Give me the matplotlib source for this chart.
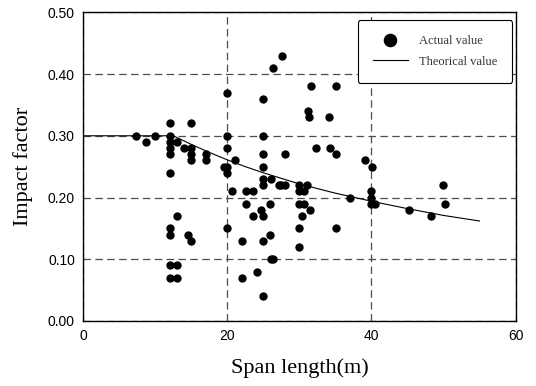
import matplotlib
matplotlib.use("Agg")
from matplotlib import pyplot as plt

# actual measured points (span length, impact factor)
span = [7.3, 8.7, 10.0, 12, 12, 12, 12, 12, 12, 13, 14, 15, 15, 15, 15, 17, 17,
        19.5, 20, 20, 20, 20, 20, 20, 13, 12, 12, 14.5, 15, 12, 13, 12, 13,
        21.0, 20.7, 22.0, 22.0, 22.6, 23.5, 22.6, 23.5, 24.1, 24.6,
        25, 25, 25, 25, 25, 25, 25, 25, 25, 25.9, 26.0, 25.9, 26.1, 26.3,
        26.4, 27.6, 28.0, 27.1, 27.5, 28.0, 30.0, 30.0, 30.6, 31.1, 30.0, 30.6,
        30.4, 31.5, 30.0, 30.0, 31.6, 31.2, 31.4, 32.3, 34.1, 34.3, 35.1, 35.1,
        35.1, 37.0, 39.1, 40.1, 40, 40, 40, 40.5, 45.2, 48.2, 50.0, 50.2]
impact = [0.30, 0.29, 0.30, 0.32, 0.30, 0.29, 0.28, 0.27, 0.24, 0.29, 0.28, 0.32, 0.28, 0.27, 0.26, 0.27, 0.26,
          0.25, 0.25, 0.24, 0.37, 0.30, 0.28, 0.15, 0.17, 0.15, 0.14, 0.14, 0.13, 0.09, 0.09, 0.07, 0.07,
          0.26, 0.21, 0.13, 0.07, 0.21, 0.21, 0.19, 0.17, 0.08, 0.18,
          0.36, 0.30, 0.27, 0.25, 0.23, 0.22, 0.17, 0.13, 0.04, 0.19, 0.23, 0.14, 0.10, 0.10,
          0.41, 0.43, 0.27, 0.22, 0.22, 0.22, 0.22, 0.21, 0.21, 0.22, 0.19, 0.19,
          0.17, 0.18, 0.15, 0.12, 0.38, 0.34, 0.33, 0.28, 0.33, 0.28, 0.38, 0.27,
          0.15, 0.20, 0.26, 0.25, 0.21, 0.20, 0.19, 0.19, 0.18, 0.17, 0.22, 0.19]

# theoretical curve
theo_x = [0, 12.5, 15, 17.5, 20, 22.5, 25, 27.5, 30, 35, 40, 45, 50, 55]
theo_y = [0.30, 0.30, 0.286, 0.273, 0.261, 0.250, 0.240, 0.231, 0.222, 0.207, 0.194, 0.182, 0.171, 0.162]

label_font = "Liberation Serif"

fig = plt.figure(figsize=(5.36, 3.86), dpi=100)
ax = fig.add_axes([0.1554, 0.1684, 0.8064, 0.7997])

ax.plot(span, impact, linestyle="none", marker="o", markersize=5, color="black",
        label="Actual value", zorder=3)
ax.plot(theo_x, theo_y, color="black", linewidth=0.8, label="Theorical value", zorder=2)

ax.set_xlim(0, 60)
ax.set_ylim(0, 0.5)
ax.set_xticks([0, 20, 40, 60])
ax.set_yticks([0, 0.1, 0.2, 0.3, 0.4, 0.5])
ax.set_yticklabels(["0.00", "0.10", "0.20", "0.30", "0.40", "0.50"])
ax.tick_params(length=0, pad=6, labelsize=10)
for t in ax.get_xticklabels() + ax.get_yticklabels():
    t.set_fontfamily("Liberation Sans")

ax.grid(True, color="0.3", linestyle=(0, (6, 3.5)), linewidth=0.9)
for s in ax.spines.values():
    s.set_linewidth(1.0)

ax.set_xlabel("Span length(m)", fontfamily=label_font, fontsize=16, labelpad=11)
ax.set_ylabel("Impact factor", fontfamily=label_font, fontsize=16, labelpad=11)

leg = ax.legend(loc="upper right", bbox_to_anchor=(0.992, 0.975), borderaxespad=0,
                markerscale=1.75, handlelength=2.8, fancybox=True, framealpha=1,
                edgecolor="black", prop={"family": label_font, "size": 9},
                borderpad=1.2, labelspacing=0.7, handletextpad=0.9)
leg.get_frame().set_linewidth(0.8)
for t in leg.get_texts():
    t.set_color("0.2")

fig.savefig("out.png", dpi=100)
